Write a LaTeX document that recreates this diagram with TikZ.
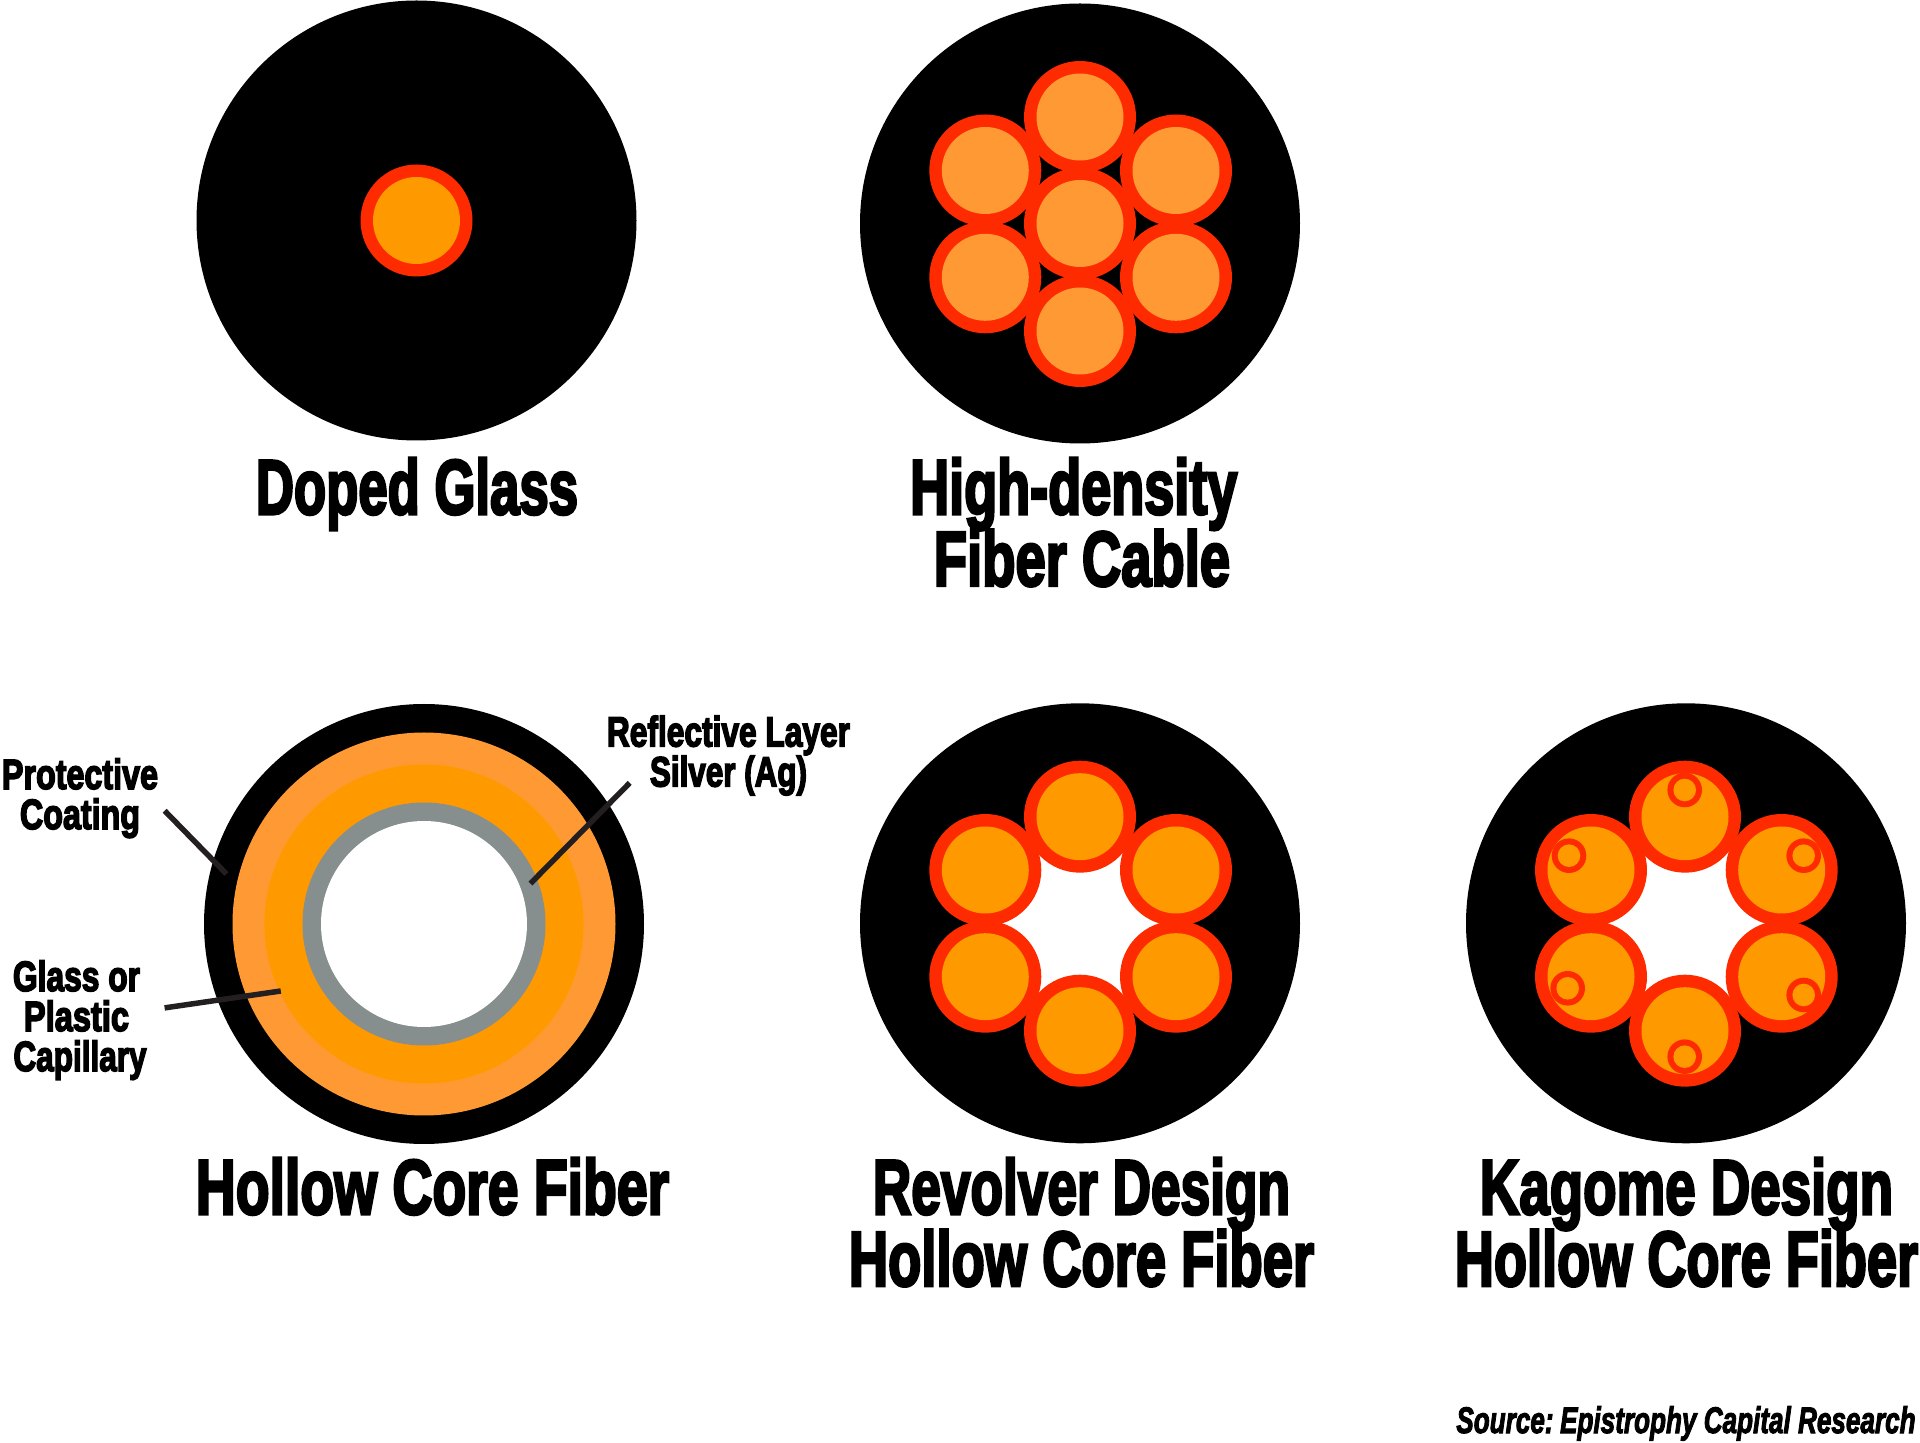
\documentclass[tikz,border=0pt]{standalone}
\usepackage{fontspec}
\usepackage{graphicx}
\newfontfamily\heavy{Liberation Sans}[BoldFeatures={FakeBold=4},BoldItalicFeatures={FakeBold=3}]
\newlength\pxu \pxu=.01cm
\newsavebox\fitbox
\newcommand{\fitl}[2]{\sbox\fitbox{#2}\pgfmathsetmacro\fitr{#1*0.2845276/\wd\fitbox}\scalebox{\fitr}[1]{\usebox\fitbox}}
\newcommand{\tightlines}{\lineskiplimit=-100pt\relax\lineskip=0pt\relax}
\definecolor{ringred}{HTML}{FF2B00}
\definecolor{lightor}{HTML}{FF9933}
\definecolor{coreor}{HTML}{FF9900}
\definecolor{silver}{HTML}{868F8D}
\definecolor{leader}{HTML}{231F20}
\tikzset{
  bigtitle/.style={anchor=base,inner sep=0pt,align=center,text=black,font=\heavy\bfseries\fontsize{22}{20.4}\selectfont\tightlines},
  smalltitle/.style={anchor=base,inner sep=0pt,align=center,text=black,font=\heavy\bfseries\fontsize{12}{11.38}\selectfont\tightlines},
  srctitle/.style={anchor=base,inner sep=0pt,text=black,font=\heavy\bfseries\itshape\fontsize{10.5}{12}\selectfont},
  leaderline/.style={draw=leader,line width=.055cm},
  jacket/.style={fill=black},
  ring/.style={fill=ringred},
}
\begin{document}
\begin{tikzpicture}[x=.01cm,y=-.01cm]
\useasboundingbox (0,0) rectangle (1920,1443);
% Doped glass
\fill[jacket] (416.5,220.5) circle (220);
\fill[ring] (416.5,220.5) circle (56);
\fill[coreor] (416.5,220.5) circle (43.5);
% High-density
\fill[jacket] (1080,223.5) circle (220);
\foreach \x/\y in {1080/117,1080/223.5,1080/331,985.3/170.5,985.3/277.3,1176/170.5,1176/277.3}{
  \fill[ring] (\x,\y) circle (56);
  \fill[lightor] (\x,\y) circle (43.5);
}
% Hollow core
\fill[jacket] (424,924) circle (220);
\fill[lightor] (424,924) circle (191.5);
\fill[coreor] (424,924) circle (159.6);
\fill[silver] (424,924) circle (121.5);
\fill[white] (424,924) circle (103);
% Revolver
\fill[jacket] (1080,923.3) circle (220);
\fill[white] (1080,923.3) circle (90);
\foreach \x/\y in {1080/816.7,1080/1030.7,985.3/870,985.3/976.7,1176/870,1176/976.7}{
  \fill[ring] (\x,\y) circle (56);
  \fill[coreor] (\x,\y) circle (43.5);
}
% Kagome
\fill[jacket] (1686,923.3) circle (220);
\fill[white] (1686,923.3) circle (90);
\foreach \x/\y in {1685/816.7,1685/1030.7,1591/870,1591/976.7,1781.7/870,1781.7/976.7}{
  \fill[ring] (\x,\y) circle (56);
  \fill[coreor] (\x,\y) circle (43.5);
}
\foreach \x/\y in {1684.7/790,1569/855.7,1567.7/988.3,1803.7/855.7,1803.7/995,1684.7/1056.7}{
  \fill[ring] (\x,\y) circle (17.3);
  \fill[coreor] (\x,\y) circle (11.3);
}
% Titles
\node[bigtitle] (doped) at (417,514) {\fitl{322}{Doped Glass}};
\node[bigtitle] (hidens) at (1073.75,585.7) {\fitl{327}{High-density}\\\hspace*{16.5\pxu}\fitl{296}{Fiber Cable}};
\node[bigtitle] (hollow) at (432.5,1214) {\fitl{473}{Hollow Core Fiber}};
\node[bigtitle] (revolver) at (1081.5,1285.7) {\fitl{417}{Revolver Design}\\\fitl{465}{Hollow Core Fiber}};
\node[bigtitle] (kagome) at (1686.5,1285.7) {\fitl{413}{Kagome Design}\\\fitl{463}{Hollow Core Fiber}};
\node[srctitle] (source) at (1686,1433) {\fitl{459}{Source:\hspace{-.12em} Epistrophy Capital Research}};
% Callouts
\node[smalltitle] (protect) at (80,829) {\fitl{156}{Protective}\\\fitl{120}{Coating}};
\node[smalltitle] (glass) at (76.5,1071) {\fitl{127}{Glass or}\\\fitl{105}{Plastic}\\\hspace*{7\pxu}\fitl{133}{Capillary}};
\node[smalltitle] (reflect) at (728.5,786.4) {\fitl{243}{Reflective Layer}\\\fitl{157}{Silver (Ag)}};
% Leaders
\coordinate (p1) at (164.6,810.7);
\coordinate (p2) at (226.5,874);
\coordinate (g1) at (164.6,1007.9);
\coordinate (g2) at (280.8,991);
\coordinate (r1) at (629.7,782.9);
\coordinate (r2) at (530.4,883.6);
\draw[leaderline] (p1) -- (p2);
\draw[leaderline] (g1) -- (g2);
\draw[leaderline] (r1) -- (r2);
\end{tikzpicture}
\end{document}
